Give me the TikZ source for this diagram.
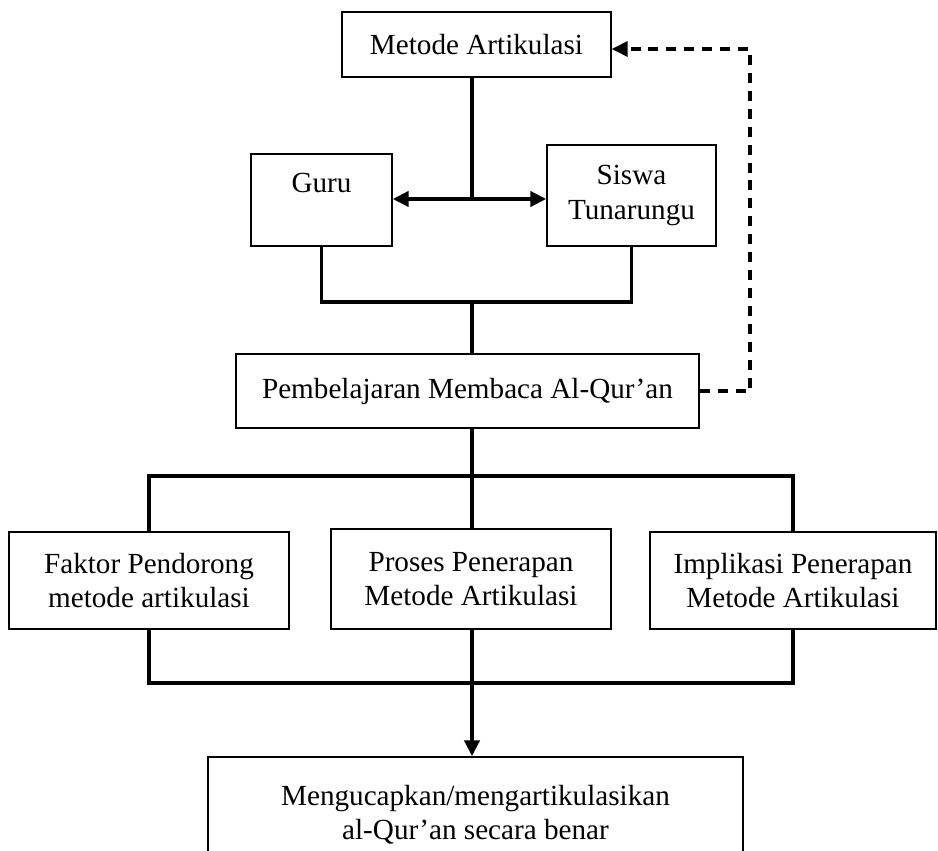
\documentclass[tikz,border=0pt]{standalone}
\usepackage{fontspec}
\setmainfont{Liberation Serif}
\usetikzlibrary{arrows.meta}

\begin{document}
\begin{tikzpicture}[x=0.02cm,y=-0.02cm,
    box/.style={draw,line width=0.8pt,align=center,inner sep=0pt,
      font=\fontsize{16.6}{19.5}\selectfont},
    conn/.style={line width=2pt},
    spine/.style={line width=2.8pt},
    tip/.style={-{Triangle[length=0.32cm,width=0.3cm]}}]
  \useasboundingbox (0,0) rectangle (938,851);
  \clip (0,0) rectangle (938,851);

  %boxes
  \node[box,minimum width=5.38cm,minimum height=1.30cm] (metode) at (476.5,44.5) {Metode Artikulasi};
  \node[box,minimum width=2.82cm,minimum height=1.84cm] (guru) at (321.5,200) {Guru\\ \phantom{Guru}};
  \node[box,minimum width=3.38cm,minimum height=2.02cm] (siswa) at (631.5,195.5) {Siswa\\Tunarungu};
  \node[box,minimum width=9.26cm,minimum height=1.48cm] (pemb) at (467.5,391) {Pembelajaran Membaca Al-Qur’an};
  \node[box,minimum width=5.60cm,minimum height=1.94cm] (faktor) at (149,580.5) {Faktor Pendorong\\metode artikulasi};
  \node[box,minimum width=5.60cm,minimum height=2.00cm] (proses) at (471,579) {Proses Penerapan\\Metode Artikulasi};
  \node[box,minimum width=5.72cm,minimum height=1.94cm] (impl) at (793,580.5) {Implikasi Penerapan\\Metode Artikulasi};
  \node[box,minimum width=10.70cm,minimum height=2.32cm] (hasil) at (475.5,815) {Mengucapkan/mengartikulasikan\\al-Qur’an secara benar};

  %junctions
  \coordinate (hub) at (472,199);
  \coordinate (gs) at (472,302);
  \coordinate (fb) at (750,49);
  \coordinate (top3) at (472,476);
  \coordinate (bot3) at (472,683);

  %metode to guru and siswa
  \draw[spine] (metode.south -| hub) -- (hub);
  \draw[spine,{Triangle[length=0.32cm,width=0.3cm]}-{Triangle[length=0.32cm,width=0.3cm]}] (guru.east |- hub) -- (siswa.west |- hub);
  \draw[conn] (guru.south) -- (guru.south |- gs) -- (siswa.south |- gs) -- (siswa.south);
  \draw[conn] (gs) -- (pemb.north -| gs);

  %feedback
  \draw[conn,dash pattern=on 5.7pt off 4.5pt,tip] (pemb.east) -- (pemb.east -| fb) -- (fb) -- (metode.east |- fb);

  %three boxes
  \draw[spine] (pemb.south -| top3) -- (top3);
  \draw[conn] (faktor.north) -- (faktor.north |- top3) -- (impl.north |- top3) -- (impl.north);
  \draw[spine] (top3) -- (proses.north -| top3);
  \draw[conn] (faktor.south) -- (faktor.south |- bot3) -- (impl.south |- bot3) -- (impl.south);
  \draw[spine,tip] (proses.south -| bot3) -- (hasil.north -| bot3);
\end{tikzpicture}
\end{document}
